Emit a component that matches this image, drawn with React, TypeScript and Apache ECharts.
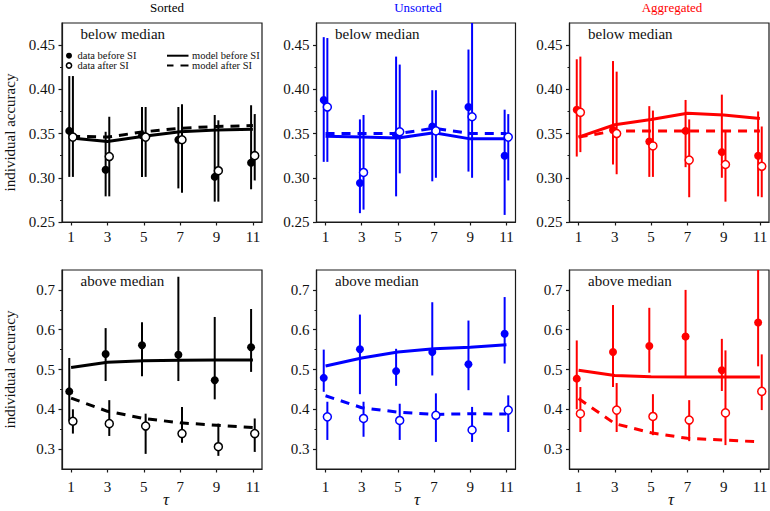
import React, { useEffect, useRef } from "react";
import * as echarts from "echarts";

// ---------- data ----------
const tau = [1, 3, 5, 7, 9, 11];
const xTickValues = [1, 3, 5, 7, 9, 11];
const topYTicks = [0.25, 0.3, 0.35, 0.4, 0.45];
const topYMinorTicks = [0.275, 0.325, 0.375, 0.425];
const bottomYTicks = [0.3, 0.4, 0.5, 0.6, 0.7];
const bottomYMinorTicks = [0.35, 0.45, 0.55, 0.65];
const columnTitles = ["Sorted", "Unsorted", "Aggregated"];
const rowLabels = ["below median", "above median"];
const legendLabels = ["data before SI", "data after SI", "model before SI", "model after SI"];

// Sorted, below median
const sortedBelowBefore = [0.353, 0.309, 0.348, 0.343, 0.301, 0.317];
const sortedBelowBeforeErr = [[0.301, 0.415], [0.279, 0.352], [0.301, 0.380], [0.288, 0.380], [0.273, 0.371], [0.287, 0.382]];
const sortedBelowAfter = [0.346, 0.324, 0.346, 0.343, 0.308, 0.325];
const sortedBelowAfterErr = [[0.301, 0.415], [0.279, 0.369], [0.301, 0.380], [0.283, 0.383], [0.273, 0.365], [0.297, 0.372]];
const sortedBelowModelBefore = [0.345, 0.341, 0.347, 0.352, 0.354, 0.355];
const sortedBelowModelAfter = [0.347, 0.346, 0.352, 0.356, 0.358, 0.359];

// Unsorted, below median
const unsortedBelowBefore = [0.388, 0.294, 0.348, 0.358, 0.380, 0.325];
const unsortedBelowBeforeErr = [[0.318, 0.459], [0.260, 0.366], [0.279, 0.437], [0.296, 0.399], [0.307, 0.445], [0.258, 0.377]];
const unsortedBelowAfter = [0.380, 0.306, 0.352, 0.353, 0.369, 0.346];
const unsortedBelowAfterErr = [[0.318, 0.458], [0.264, 0.371], [0.305, 0.428], [0.300, 0.399], [0.300, 0.490], [0.297, 0.372]];
const unsortedBelowModelBefore = [0.347, 0.346, 0.345, 0.351, 0.344, 0.344];
const unsortedBelowModelAfter = [0.350, 0.350, 0.350, 0.356, 0.350, 0.350];

// Aggregated, below median
const aggregatedBelowBefore = [0.377, 0.354, 0.341, 0.353, 0.329, 0.325];
const aggregatedBelowBeforeErr = [[0.324, 0.434], [0.315, 0.432], [0.301, 0.381], [0.312, 0.388], [0.300, 0.394], [0.279, 0.375]];
const aggregatedBelowAfter = [0.374, 0.350, 0.336, 0.320, 0.315, 0.313];
const aggregatedBelowAfterErr = [[0.329, 0.437], [0.304, 0.420], [0.301, 0.376], [0.278, 0.366], [0.273, 0.352], [0.278, 0.358]];
const aggregatedBelowModelBefore = [0.346, 0.360, 0.366, 0.373, 0.371, 0.367];
const aggregatedBelowModelAfter = [0.346, 0.353, 0.353, 0.353, 0.353, 0.353];

// Sorted, above median
const sortedAboveBefore = [0.445, 0.539, 0.561, 0.537, 0.473, 0.556];
const sortedAboveBeforeErr = [[0.371, 0.529], [0.471, 0.604], [0.483, 0.619], [0.471, 0.733], [0.425, 0.632], [0.494, 0.652]];
const sortedAboveAfter = [0.370, 0.364, 0.358, 0.339, 0.306, 0.339];
const sortedAboveAfterErr = [[0.339, 0.400], [0.333, 0.423], [0.288, 0.389], [0.316, 0.406], [0.283, 0.364], [0.293, 0.377]];
const sortedAboveModelBefore = [0.505, 0.518, 0.522, 0.523, 0.524, 0.524];
const sortedAboveModelAfter = [0.428, 0.395, 0.377, 0.366, 0.360, 0.354];

// Unsorted, above median
const unsortedAboveBefore = [0.479, 0.551, 0.496, 0.544, 0.513, 0.590];
const unsortedAboveBeforeErr = [[0.444, 0.550], [0.438, 0.638], [0.459, 0.552], [0.485, 0.669], [0.448, 0.623], [0.515, 0.682]];
const unsortedAboveAfter = [0.381, 0.377, 0.372, 0.385, 0.348, 0.398];
const unsortedAboveAfterErr = [[0.323, 0.419], [0.331, 0.419], [0.323, 0.414], [0.318, 0.440], [0.318, 0.406], [0.343, 0.435]];
const unsortedAboveModelBefore = [0.509, 0.529, 0.544, 0.552, 0.556, 0.562];
const unsortedAboveModelAfter = [0.434, 0.404, 0.393, 0.387, 0.389, 0.388];

// Aggregated, above median
const aggregatedAboveBefore = [0.477, 0.544, 0.559, 0.583, 0.498, 0.618];
const aggregatedAboveBeforeErr = [[0.400, 0.573], [0.456, 0.662], [0.492, 0.655], [0.480, 0.700], [0.446, 0.577], [0.508, 0.800]];
const aggregatedAboveAfter = [0.389, 0.398, 0.382, 0.373, 0.391, 0.445];
const aggregatedAboveAfterErr = [[0.343, 0.456], [0.343, 0.466], [0.335, 0.438], [0.320, 0.423], [0.310, 0.548], [0.398, 0.538]];
const aggregatedAboveModelBefore = [0.498, 0.485, 0.482, 0.481, 0.481, 0.481];
const aggregatedAboveModelAfter = [0.427, 0.364, 0.341, 0.327, 0.323, 0.318];

// ---------- styling / layout ----------
const FONT = '"Liberation Serif", "Times New Roman", serif';
const AXIS_COLOR = "#1a1a1a";
const TEXT_COLOR = "#111";
const COLORS = ["#000000", "#0000ff", "#ff0000"];
const GRID_LEFT = [62, 316.5, 569.5];
const GRID_WIDTH = [200, 199, 199.5];
const GRID_TOP = [23, 270];
const GRID_HEIGHT = 199;
const OFFSET = 0.1;
const DASH = [9, 7];

const panels = [
  { before: sortedBelowBefore, beforeErr: sortedBelowBeforeErr, after: sortedBelowAfter, afterErr: sortedBelowAfterErr, mb: sortedBelowModelBefore, ma: sortedBelowModelAfter },
  { before: unsortedBelowBefore, beforeErr: unsortedBelowBeforeErr, after: unsortedBelowAfter, afterErr: unsortedBelowAfterErr, mb: unsortedBelowModelBefore, ma: unsortedBelowModelAfter },
  { before: aggregatedBelowBefore, beforeErr: aggregatedBelowBeforeErr, after: aggregatedBelowAfter, afterErr: aggregatedBelowAfterErr, mb: aggregatedBelowModelBefore, ma: aggregatedBelowModelAfter },
  { before: sortedAboveBefore, beforeErr: sortedAboveBeforeErr, after: sortedAboveAfter, afterErr: sortedAboveAfterErr, mb: sortedAboveModelBefore, ma: sortedAboveModelAfter },
  { before: unsortedAboveBefore, beforeErr: unsortedAboveBeforeErr, after: unsortedAboveAfter, afterErr: unsortedAboveAfterErr, mb: unsortedAboveModelBefore, ma: unsortedAboveModelAfter },
  { before: aggregatedAboveBefore, beforeErr: aggregatedAboveBeforeErr, after: aggregatedAboveAfter, afterErr: aggregatedAboveAfterErr, mb: aggregatedAboveModelBefore, ma: aggregatedAboveModelAfter },
];

function errorBarRenderer(color: string) {
  return (params: any, api: any) => {
    const x = api.value(0);
    const lo = api.value(1);
    const hi = api.value(2);
    const p1 = api.coord([x, lo]);
    const p2 = api.coord([x, hi]);
    const cs = params.coordSys;
    const clamp = (y: number) => Math.max(cs.y, Math.min(cs.y + cs.height, y));
    return {
      type: "line",
      shape: { x1: p1[0], y1: clamp(p1[1]), x2: p2[0], y2: clamp(p2[1]) },
      style: { stroke: color, lineWidth: 2 },
    };
  };
}

function buildOption() {
  const grid: any[] = [];
  const xAxis: any[] = [];
  const yAxis: any[] = [];
  const series: any[] = [];
  const graphic: any[] = [];

  panels.forEach((p, i) => {
    const row = i < 3 ? 0 : 1;
    const col = i % 3;
    const color = COLORS[col];
    const isTop = row === 0;
    grid.push({
      left: GRID_LEFT[col],
      top: GRID_TOP[row],
      width: GRID_WIDTH[col],
      height: GRID_HEIGHT,
      show: true,
      borderColor: AXIS_COLOR,
      borderWidth: 1.2,
      backgroundColor: "transparent",
      containLabel: false,
      outerBoundsMode: "none",
    });
    xAxis.push({
      type: "value",
      gridIndex: i,
      min: 0.5,
      max: 11.5,
      axisLine: { show: true, onZero: false, lineStyle: { color: AXIS_COLOR, width: 1.2 } },
      axisTick: { show: true, inside: false, length: 3.5, customValues: xTickValues, lineStyle: { color: AXIS_COLOR, width: 1.2 } },
      axisLabel: {
        customValues: xTickValues,
        fontFamily: FONT,
        fontSize: 15,
        color: TEXT_COLOR,
        margin: isTop ? 7 : 10,
        formatter: (v: number) => String(Math.round(v)),
      },
      splitLine: { show: false },
    });
    const ticks = isTop ? topYTicks : bottomYTicks;
    const minor = isTop ? topYMinorTicks : bottomYMinorTicks;
    const ymax = isTop ? 0.475 : 0.75;
    yAxis.push({
      type: "value",
      gridIndex: i,
      position: "left",
      min: 0.25,
      max: ymax,
      interval: 0.05,
      axisLine: { show: true, onZero: false, lineStyle: { color: AXIS_COLOR, width: 1.2 } },
      axisTick: { show: true, inside: false, length: 3.5, customValues: ticks, lineStyle: { color: AXIS_COLOR, width: 1.2 } },
      axisLabel: {
        customValues: ticks,
        fontFamily: FONT,
        fontSize: 15,
        color: TEXT_COLOR,
        margin: 7,
        formatter: (v: number) => (isTop ? v.toFixed(2) : v.toFixed(1)),
      },
      splitLine: { show: false },
    });
    yAxis.push({
      type: "value",
      gridIndex: i,
      position: "left",
      offset: 0,
      min: 0.25,
      max: ymax,
      interval: 0.05,
      axisLine: { show: false },
      axisTick: { show: true, inside: false, length: 2, customValues: minor, lineStyle: { color: AXIS_COLOR, width: 1 } },
      axisLabel: { show: false },
      splitLine: { show: false },
    });
    const yIdx = 2 * i;
    series.push({
      type: "custom",
      name: "error before",
      xAxisIndex: i,
      yAxisIndex: yIdx,
      renderItem: errorBarRenderer(color),
      encode: { x: 0, y: [1, 2] },
      data: tau.map((t, k) => [t - OFFSET, p.beforeErr[k][0], p.beforeErr[k][1]]),
      z: 1,
      silent: true,
    });
    series.push({
      type: "custom",
      name: "error after",
      xAxisIndex: i,
      yAxisIndex: yIdx,
      renderItem: errorBarRenderer(color),
      encode: { x: 0, y: [1, 2] },
      data: tau.map((t, k) => [t + OFFSET, p.afterErr[k][0], p.afterErr[k][1]]),
      z: 1,
      silent: true,
    });
    series.push({
      type: "line",
      name: legendLabels[2],
      xAxisIndex: i,
      yAxisIndex: yIdx,
      data: tau.map((t, k) => [t, p.mb[k]]),
      showSymbol: false,
      symbol: "none",
      lineStyle: { color, width: 3, type: "solid" },
      z: 2,
    });
    series.push({
      type: "line",
      name: legendLabels[3],
      xAxisIndex: i,
      yAxisIndex: yIdx,
      data: tau.map((t, k) => [t, p.ma[k]]),
      showSymbol: false,
      symbol: "none",
      lineStyle: { color, width: 3, type: DASH },
      z: 2,
    });
    series.push({
      type: "scatter",
      name: legendLabels[0],
      xAxisIndex: i,
      yAxisIndex: yIdx,
      data: tau.map((t, k) => [t - OFFSET, p.before[k]]),
      symbol: "circle",
      symbolSize: 8,
      itemStyle: { color, opacity: 1 },
      z: 3,
    });
    series.push({
      type: "scatter",
      name: legendLabels[1],
      xAxisIndex: i,
      yAxisIndex: yIdx,
      data: tau.map((t, k) => [t + OFFSET, p.after[k]]),
      symbol: "circle",
      symbolSize: 8,
      itemStyle: { color: "#ffffff", borderColor: color, borderWidth: 1.5, opacity: 1 },
      z: 4,
    });

    // panel label
    graphic.push({
      type: "text",
      x: GRID_LEFT[col] + 18.5,
      y: row === 0 ? 33.5 : 281,
      style: {
        text: rowLabels[row],
        fontFamily: FONT,
        fontSize: 15,
        fill: TEXT_COLOR,
        align: "left",
        verticalAlign: "middle",
        textAlign: "left",
        textVerticalAlign: "middle",
      },
      z: 10,
    });
  });

  // column titles and tau labels
  const titleX = [167, 418, 672];
  columnTitles.forEach((t, c) => {
    graphic.push({
      type: "text",
      x: titleX[c],
      y: 7.5,
      style: {
        text: t,
        fontFamily: FONT,
        fontSize: 13,
        fill: COLORS[c],
        align: "center",
        verticalAlign: "middle",
        textAlign: "center",
        textVerticalAlign: "middle",
      },
    });
    graphic.push({
      type: "text",
      x: titleX[c] - 1,
      y: 499,
      style: {
        text: "τ",
        fontFamily: FONT,
        fontSize: 17,
        fontStyle: "italic",
        fill: TEXT_COLOR,
        align: "center",
        verticalAlign: "middle",
        textAlign: "center",
        textVerticalAlign: "middle",
      },
    });
  });

  // y-axis names
  [132.5, 369.5].forEach((cy) => {
    graphic.push({
      type: "text",
      x: 10,
      y: cy,
      rotation: Math.PI / 2,
      style: {
        text: "individual accuracy",
        fontFamily: FONT,
        fontSize: 15,
        fill: TEXT_COLOR,
        align: "center",
        verticalAlign: "middle",
        textAlign: "center",
        textVerticalAlign: "middle",
      },
    });
  });

  // legend (first panel)
  const lgFont = { fontFamily: FONT, fontSize: 10.5, fill: TEXT_COLOR, align: "left", verticalAlign: "middle", textAlign: "left", textVerticalAlign: "middle" };
  const r1 = 55.7;
  const r2 = 65.5;
  graphic.push(
    { type: "circle", shape: { cx: 69, cy: r1, r: 3 }, style: { fill: "#000" }, z: 10 },
    { type: "text", x: 77.5, y: r1, style: { ...lgFont, text: legendLabels[0] }, z: 10 },
    { type: "circle", shape: { cx: 69, cy: r2, r: 2.6 }, style: { fill: "#fff", stroke: "#000", lineWidth: 1.5 }, z: 10 },
    { type: "text", x: 77.5, y: r2, style: { ...lgFont, text: legendLabels[1] }, z: 10 },
    { type: "line", shape: { x1: 167, y1: r1, x2: 188.5, y2: r1 }, style: { stroke: "#000", lineWidth: 2 }, z: 10 },
    { type: "text", x: 192, y: r1, style: { ...lgFont, text: legendLabels[2] }, z: 10 },
    { type: "line", shape: { x1: 167, y1: r2, x2: 173.5, y2: r2 }, style: { stroke: "#000", lineWidth: 2 }, z: 10 },
    { type: "line", shape: { x1: 180.5, y1: r2, x2: 188.5, y2: r2 }, style: { stroke: "#000", lineWidth: 2 }, z: 10 },
    { type: "text", x: 192, y: r2, style: { ...lgFont, text: legendLabels[3] }, z: 10 }
  );

  return {
    animation: false,
    backgroundColor: "#ffffff",
    textStyle: { fontFamily: FONT },
    grid,
    xAxis,
    yAxis,
    series,
    graphic,
  };
}

export default function App() {
  const ref = useRef<HTMLDivElement>(null);
  useEffect(() => {
    if (!ref.current) return;
    const chart = echarts.init(ref.current, undefined, { renderer: "svg" });
    chart.setOption(buildOption() as any);
    return () => {
      chart.dispose();
    };
  }, []);
  return (
    <div
      ref={ref}
      style={{ position: "fixed", left: 0, top: 0, width: 770, height: 511, background: "#fff" }}
    />
  );
}
